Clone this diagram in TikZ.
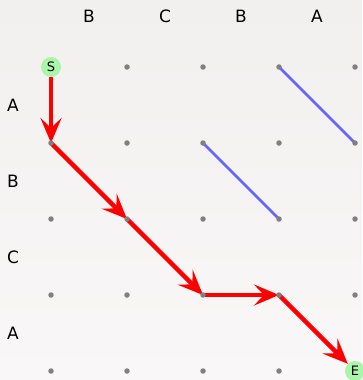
\documentclass[tikz,border=0pt]{standalone}
\usepackage{fontspec}
\setmainfont{DejaVu Sans}
\usetikzlibrary{positioning,arrows.meta}

\definecolor{bgtop}{RGB}{242,239,239}
\definecolor{bgbot}{RGB}{249,247,247}
\definecolor{endgreen}{RGB}{170,245,170}
\definecolor{matchblue}{RGB}{100,100,255}
\definecolor{dotgray}{RGB}{128,128,128}

\begin{document}
\begin{tikzpicture}[x=1pt, y=-1pt,
  every node/.style={font=\fontsize{17}{20}\selectfont},
  gridpt/.style={circle, fill=dotgray, inner sep=0pt, minimum size=5.5pt},
  endpt/.style={circle, fill=endgreen, inner sep=0pt, minimum size=20pt, font=\fontsize{13}{15}\selectfont},
  trace/.style={draw=red, line width=4.5pt, -{Stealth[length=25pt, width=21pt, inset=10pt]}},
  match/.style={draw=matchblue, line width=2.8pt}]
  \shade[top color=bgtop, bottom color=bgbot] (0,0) rectangle (362,380);
  \useasboundingbox (0,0) rectangle (362,380);
  % grid points
  \foreach \i in {0,...,4}
    \foreach \j in {0,...,4}
      \coordinate (c\i\j) at ({51+76*\j},{67+76*\i});
  % sequence labels
  \foreach \ch [count=\k] in {B,C,B,A}
    \node (top\k) at ({13+76*\k},16) {\ch};
  \foreach \ch [count=\k] in {A,B,C,A}
    \node (left\k) at (13,{29+76*\k}) {\ch};
  \node[endpt] (S) at (c00) {S};
  \node[endpt] (E) at (c44) {E};
  % matches
  \draw[match] (c03) -- (c14);
  \draw[match] (c12) -- (c23);
  % alignment path
  \draw[trace] (S) -- (c10);
  \draw[trace] (c10) -- (c21);
  \draw[trace] (c21) -- (c32);
  \draw[trace] (c32) -- (c33);
  \draw[trace] (c33) -- (E);
  \foreach \i in {0,...,4}
    \foreach \j in {0,...,4}{
      \ifnum\numexpr\i*10+\j\relax=0 \else\ifnum\numexpr\i*10+\j\relax=44 \else
        \node[gridpt] (p\i\j) at (c\i\j) {};
      \fi\fi
    }
\end{tikzpicture}
\end{document}
